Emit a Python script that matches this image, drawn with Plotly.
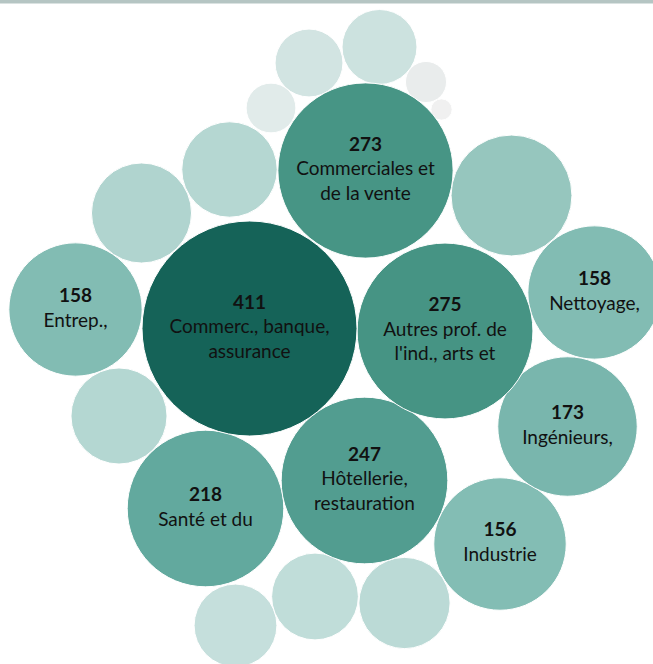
import plotly.graph_objects as go

# ---- data ----
values = [411, 275, 273, 247, 218, 173, 158, 158, 156,
          130, 89, 82, 81, 74, 67, 61, 50, 41, 22, 15, 4]
labels = ["Commerc., banque,<br>assurance",
          "Autres prof. de<br>l'ind., arts et",
          "Commerciales et<br>de la vente",
          "Hôtellerie,<br>restauration",
          "Santé et du",
          "Ingénieurs,",
          "Entrep.,",
          "Nettoyage,",
          "Industrie",
          "", "", "", "", "", "", "", "", "", "", "", ""]

# ---- packed-bubble layout (centres, in plot units) ----
bubble_x = [249.5, 445, 365.5, 364.5, 205.5, 567.5, 75.5, 594.5, 500,
            511.5, 141.5, 119, 229.5, 404.5, 315, 235.5, 379.5, 309, 271, 426, 441.5]
bubble_y = [328.5, 331, 170.5, 480.5, 508.5, 426.5, 309.5, 292.5, 544,
            195.5, 213, 416, 169.5, 603, 596.5, 625.5, 47, 63, 108, 82, 109.5]

# ---- styles ----
W, H = 653, 664
MAX_DIAM = 215
colorscale_pts = [
    (0, "#f2f2f2"), (15, "#e9ecec"), (22, "#e1ebea"), (41, "#d2e4e2"),
    (61, "#c5dfdc"), (81, "#b5d7d2"), (130, "#96c6be"), (158, "#82bcb3"),
    (173, "#79b6ad"), (218, "#62a99e"), (247, "#529d90"), (275, "#469484"),
    (411, "#156358"),
]
vmax = max(values)
colorscale = [[v / vmax, c] for v, c in colorscale_pts]

texts = [f"<b>{v}</b><br>{l}" if l else "" for v, l in zip(values, labels)]

# draw small bubbles first
order = sorted(range(len(values)), key=lambda i: values[i])

fig = go.Figure()
fig.add_trace(go.Scatter(
    x=[bubble_x[i] for i in order],
    y=[bubble_y[i] for i in order],
    mode="markers+text",
    text=[texts[i] for i in order],
    textposition="middle center",
    textfont=dict(family="Lato, 'Open Sans', sans-serif", size=19, color="#111111"),
    marker=dict(
        size=[values[i] for i in order],
        sizemode="area",
        sizeref=2.0 * vmax / (MAX_DIAM ** 2),
        color=[values[i] for i in order],
        colorscale=colorscale,
        cmin=0, cmax=vmax,
        line=dict(width=1, color="white"),
        opacity=1,
    ),
    hoverinfo="skip",
    showlegend=False,
))

fig.add_shape(type="rect", xref="paper", yref="y", x0=0, x1=1, y0=0, y1=3.5,
              fillcolor="#b5c5c3", line=dict(width=0), layer="above")

fig.update_layout(
    width=W, height=H,
    margin=dict(l=0, r=0, t=0, b=0),
    paper_bgcolor="white", plot_bgcolor="white",
    xaxis=dict(range=[0, W], visible=False, fixedrange=True),
    yaxis=dict(range=[H, 0], visible=False, fixedrange=True),
)

fig.write_html(
    "out.html",
    config={"displayModeBar": False},
    post_script="document.body.style.margin='0px';document.body.style.overflow='hidden';",
)
